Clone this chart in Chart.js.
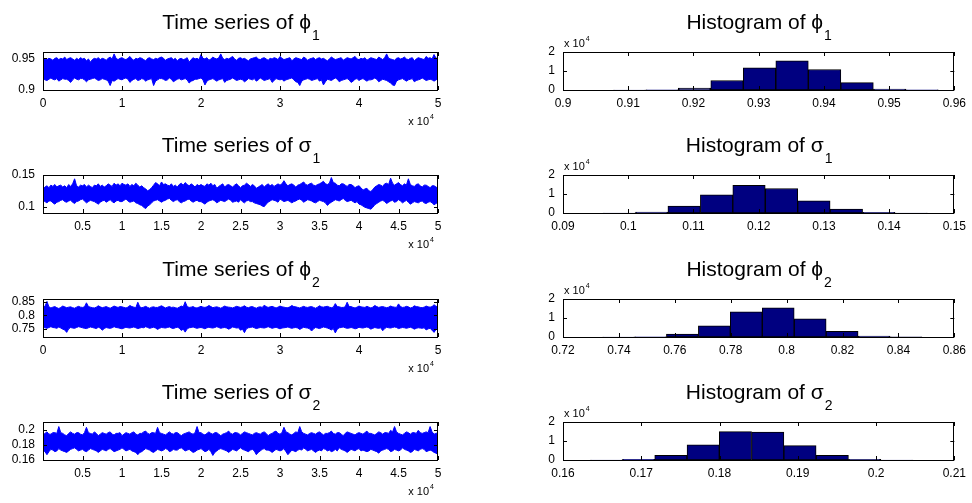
<!DOCTYPE html>
<html>
<head>
<meta charset="utf-8">
<script src="https://cdn.jsdelivr.net/npm/chart.js@4/dist/chart.umd.min.js"></script>
<style>
  html, body { margin: 0; padding: 0; background: #fff; }
  #fig { position: relative; width: 972px; height: 503px; overflow: hidden; background: #fff; }
  .cell { position: absolute; }
</style>
</head>
<body>
<div id="fig"></div>
<script>
// ---- trace envelopes (upper / lower edge of the dense MCMC trace), 201 readings over 50000 iterations
let phi1Upper = [
  0.951,0.949,0.948,0.950,0.949,0.947,0.950,0.951,0.948,0.950,0.949,0.952,0.948,0.950,0.951,0.949,0.947,0.950,0.948,0.951,
  0.949,0.950,0.946,0.949,0.944,0.948,0.950,0.949,0.951,0.948,0.950,0.949,0.947,0.950,0.952,0.949,0.957,0.950,0.948,0.950,
  0.951,0.949,0.948,0.950,0.953,0.949,0.947,0.950,0.949,0.951,0.950,0.948,0.946,0.950,0.951,0.949,0.948,0.950,0.949,0.951,
  0.952,0.950,0.947,0.949,0.950,0.951,0.948,0.950,0.946,0.949,0.950,0.948,0.949,0.951,0.944,0.948,0.951,0.949,0.950,0.948,
  0.956,0.950,0.949,0.951,0.947,0.949,0.952,0.950,0.949,0.951,0.957,0.950,0.948,0.950,0.949,0.951,0.953,0.949,0.947,0.950,
  0.951,0.949,0.950,0.948,0.946,0.949,0.950,0.951,0.952,0.949,0.948,0.950,0.951,0.949,0.947,0.950,0.949,0.951,0.950,0.948,
  0.953,0.950,0.948,0.949,0.950,0.951,0.946,0.949,0.951,0.950,0.949,0.948,0.952,0.950,0.947,0.949,0.950,0.951,0.948,0.950,
  0.951,0.949,0.950,0.948,0.946,0.949,0.952,0.950,0.948,0.949,0.950,0.951,0.947,0.949,0.951,0.950,0.949,0.951,0.953,0.949,
  0.948,0.950,0.949,0.951,0.947,0.949,0.951,0.950,0.949,0.948,0.952,0.950,0.948,0.951,0.957,0.950,0.949,0.948,0.947,0.950,
  0.951,0.949,0.950,0.952,0.949,0.948,0.950,0.951,0.946,0.949,0.951,0.950,0.949,0.948,0.953,0.950,0.951,0.949,0.956,0.950,
  0.951];
let phi1Lower = [
  0.918,0.916,0.915,0.917,0.919,0.917,0.916,0.918,0.914,0.916,0.918,0.917,0.917,0.915,0.912,0.916,0.919,0.917,0.916,0.918,
  0.918,0.916,0.913,0.916,0.917,0.918,0.919,0.917,0.915,0.916,0.918,0.917,0.916,0.914,0.907,0.915,0.914,0.916,0.918,0.917,
  0.916,0.918,0.919,0.917,0.912,0.915,0.917,0.918,0.915,0.916,0.918,0.917,0.914,0.916,0.917,0.918,0.907,0.914,0.916,0.918,
  0.918,0.917,0.915,0.916,0.919,0.917,0.913,0.915,0.917,0.918,0.916,0.917,0.918,0.916,0.911,0.914,0.915,0.917,0.917,0.918,
  0.919,0.916,0.908,0.914,0.916,0.917,0.918,0.916,0.914,0.916,0.917,0.918,0.912,0.915,0.916,0.917,0.919,0.917,0.915,0.916,
  0.917,0.916,0.913,0.915,0.918,0.917,0.916,0.918,0.914,0.916,0.919,0.917,0.915,0.916,0.917,0.918,0.912,0.915,0.918,0.917,
  0.916,0.917,0.914,0.916,0.917,0.918,0.919,0.916,0.913,0.912,0.907,0.914,0.916,0.917,0.918,0.917,0.915,0.916,0.917,0.918,
  0.914,0.916,0.908,0.913,0.917,0.916,0.915,0.917,0.919,0.917,0.913,0.915,0.916,0.917,0.918,0.916,0.912,0.914,0.917,0.918,
  0.915,0.917,0.918,0.916,0.914,0.916,0.916,0.917,0.919,0.917,0.913,0.915,0.917,0.916,0.915,0.913,0.911,0.908,0.907,0.914,
  0.916,0.917,0.918,0.916,0.914,0.916,0.917,0.918,0.913,0.915,0.916,0.917,0.919,0.917,0.915,0.916,0.917,0.916,0.914,0.916,
  0.918];
let sigma1Upper = [
  0.128,0.131,0.133,0.130,0.134,0.132,0.135,0.131,0.133,0.134,0.131,0.133,0.130,0.135,0.132,0.136,0.144,0.133,0.131,0.134,
  0.133,0.135,0.131,0.134,0.132,0.130,0.134,0.133,0.136,0.132,0.134,0.131,0.133,0.136,0.134,0.132,0.137,0.134,0.136,0.133,
  0.137,0.135,0.134,0.136,0.132,0.135,0.133,0.137,0.134,0.131,0.133,0.130,0.128,0.125,0.127,0.130,0.134,0.138,0.136,0.133,
  0.139,0.135,0.136,0.134,0.133,0.136,0.132,0.134,0.131,0.135,0.137,0.134,0.138,0.135,0.133,0.136,0.134,0.131,0.135,0.133,
  0.135,0.133,0.132,0.136,0.134,0.137,0.133,0.135,0.129,0.132,0.134,0.136,0.131,0.134,0.135,0.133,0.131,0.134,0.136,0.133,
  0.130,0.133,0.134,0.137,0.135,0.132,0.135,0.133,0.129,0.131,0.133,0.135,0.131,0.134,0.136,0.133,0.135,0.132,0.134,0.136,
  0.134,0.136,0.141,0.136,0.133,0.135,0.136,0.134,0.131,0.134,0.135,0.137,0.139,0.135,0.134,0.136,0.137,0.134,0.133,0.135,
  0.136,0.138,0.140,0.136,0.135,0.137,0.146,0.138,0.137,0.134,0.133,0.136,0.136,0.134,0.132,0.135,0.135,0.133,0.130,0.132,
  0.133,0.130,0.126,0.128,0.129,0.125,0.124,0.127,0.131,0.133,0.135,0.134,0.132,0.136,0.137,0.135,0.145,0.137,0.134,0.136,
  0.138,0.135,0.133,0.136,0.134,0.144,0.135,0.133,0.132,0.135,0.136,0.133,0.131,0.134,0.134,0.132,0.130,0.133,0.133,0.131,
  0.129];
let sigma1Lower = [
  0.110,0.108,0.106,0.109,0.109,0.106,0.104,0.107,0.108,0.110,0.111,0.108,0.107,0.109,0.110,0.107,0.105,0.108,0.109,0.111,
  0.112,0.109,0.106,0.108,0.110,0.109,0.108,0.106,0.104,0.107,0.109,0.110,0.107,0.109,0.111,0.108,0.106,0.109,0.110,0.108,
  0.108,0.110,0.112,0.109,0.107,0.108,0.109,0.106,0.105,0.103,0.102,0.099,0.097,0.101,0.103,0.106,0.109,0.110,0.111,0.109,
  0.107,0.109,0.110,0.112,0.113,0.110,0.108,0.110,0.111,0.108,0.106,0.108,0.109,0.111,0.112,0.109,0.107,0.109,0.110,0.108,
  0.108,0.106,0.104,0.107,0.109,0.110,0.111,0.109,0.106,0.108,0.110,0.109,0.108,0.110,0.112,0.110,0.107,0.108,0.109,0.107,
  0.111,0.108,0.106,0.109,0.110,0.108,0.108,0.106,0.105,0.104,0.103,0.101,0.100,0.104,0.107,0.109,0.111,0.110,0.109,0.107,
  0.112,0.110,0.108,0.109,0.110,0.108,0.106,0.108,0.109,0.111,0.112,0.110,0.107,0.109,0.111,0.110,0.109,0.107,0.106,0.108,
  0.110,0.109,0.108,0.106,0.102,0.105,0.107,0.109,0.111,0.110,0.109,0.111,0.113,0.110,0.108,0.109,0.110,0.108,0.106,0.108,
  0.104,0.103,0.101,0.099,0.098,0.097,0.096,0.099,0.103,0.105,0.107,0.109,0.110,0.108,0.105,0.107,0.109,0.110,0.107,0.108,
  0.111,0.109,0.106,0.108,0.110,0.107,0.104,0.106,0.108,0.107,0.106,0.108,0.109,0.106,0.105,0.107,0.108,0.106,0.103,0.105,
  0.107];
let phi2Upper = [
  0.830,0.833,0.851,0.831,0.827,0.830,0.832,0.828,0.825,0.829,0.834,0.831,0.828,0.830,0.831,0.828,0.826,0.830,0.833,0.830,
  0.829,0.831,0.846,0.832,0.830,0.828,0.827,0.830,0.835,0.831,0.828,0.830,0.832,0.829,0.826,0.830,0.834,0.831,0.829,0.832,
  0.831,0.829,0.827,0.830,0.836,0.832,0.830,0.828,0.848,0.831,0.828,0.830,0.833,0.829,0.826,0.830,0.831,0.829,0.829,0.832,
  0.835,0.831,0.827,0.830,0.832,0.829,0.830,0.828,0.826,0.830,0.834,0.831,0.850,0.832,0.829,0.830,0.832,0.828,0.827,0.830,
  0.833,0.830,0.829,0.831,0.836,0.832,0.828,0.830,0.831,0.829,0.826,0.830,0.834,0.831,0.830,0.829,0.827,0.830,0.833,0.831,
  0.829,0.831,0.835,0.830,0.828,0.831,0.832,0.829,0.826,0.830,0.831,0.829,0.837,0.832,0.829,0.831,0.833,0.830,0.827,0.830,
  0.834,0.831,0.830,0.828,0.828,0.831,0.836,0.832,0.831,0.829,0.827,0.830,0.833,0.830,0.829,0.831,0.832,0.829,0.826,0.830,
  0.835,0.831,0.830,0.832,0.833,0.830,0.828,0.830,0.843,0.832,0.831,0.829,0.829,0.831,0.848,0.832,0.832,0.829,0.827,0.830,
  0.834,0.831,0.830,0.829,0.833,0.830,0.827,0.830,0.836,0.832,0.829,0.831,0.832,0.830,0.828,0.830,0.834,0.831,0.830,0.829,
  0.842,0.832,0.829,0.830,0.833,0.831,0.827,0.829,0.835,0.832,0.831,0.829,0.828,0.830,0.834,0.831,0.830,0.832,0.839,0.833,
  0.832];
let phi2Lower = [
  0.756,0.754,0.752,0.755,0.758,0.755,0.754,0.752,0.757,0.753,0.749,0.746,0.737,0.750,0.755,0.753,0.752,0.755,0.758,0.756,
  0.754,0.752,0.751,0.754,0.757,0.755,0.753,0.751,0.756,0.753,0.745,0.751,0.755,0.753,0.752,0.754,0.758,0.755,0.754,0.752,
  0.750,0.753,0.756,0.754,0.753,0.755,0.757,0.754,0.751,0.753,0.755,0.754,0.758,0.755,0.752,0.754,0.756,0.753,0.748,0.752,
  0.755,0.754,0.753,0.755,0.757,0.753,0.751,0.754,0.756,0.753,0.744,0.749,0.738,0.750,0.754,0.755,0.757,0.754,0.752,0.754,
  0.755,0.753,0.750,0.754,0.756,0.754,0.753,0.755,0.758,0.755,0.752,0.754,0.755,0.753,0.749,0.752,0.757,0.755,0.753,0.754,
  0.745,0.749,0.736,0.750,0.754,0.755,0.757,0.754,0.751,0.753,0.755,0.754,0.753,0.755,0.758,0.755,0.752,0.754,0.756,0.753,
  0.750,0.753,0.754,0.755,0.757,0.754,0.752,0.754,0.755,0.753,0.748,0.752,0.756,0.754,0.753,0.750,0.742,0.750,0.755,0.753,
  0.751,0.754,0.757,0.755,0.753,0.750,0.746,0.751,0.735,0.749,0.754,0.755,0.757,0.754,0.752,0.753,0.755,0.753,0.750,0.752,
  0.756,0.754,0.753,0.755,0.757,0.754,0.749,0.752,0.755,0.753,0.752,0.754,0.743,0.751,0.756,0.754,0.753,0.755,0.757,0.755,
  0.751,0.753,0.755,0.754,0.752,0.754,0.756,0.753,0.749,0.752,0.754,0.753,0.752,0.754,0.746,0.750,0.752,0.745,0.737,0.748,
  0.754];
let sigma2Upper = [
  0.193,0.195,0.197,0.194,0.194,0.196,0.196,0.195,0.204,0.196,0.195,0.193,0.192,0.195,0.197,0.195,0.194,0.196,0.196,0.194,
  0.193,0.196,0.203,0.196,0.195,0.194,0.197,0.195,0.192,0.194,0.196,0.195,0.194,0.196,0.197,0.194,0.193,0.195,0.195,0.196,
  0.192,0.194,0.196,0.195,0.194,0.196,0.197,0.194,0.193,0.195,0.195,0.197,0.198,0.195,0.194,0.196,0.196,0.195,0.203,0.196,
  0.195,0.194,0.193,0.195,0.197,0.195,0.194,0.196,0.196,0.194,0.192,0.194,0.195,0.196,0.197,0.195,0.194,0.196,0.204,0.196,
  0.196,0.194,0.193,0.195,0.197,0.195,0.194,0.196,0.196,0.194,0.192,0.194,0.195,0.196,0.198,0.195,0.194,0.196,0.196,0.195,
  0.193,0.195,0.197,0.196,0.195,0.194,0.193,0.195,0.196,0.195,0.194,0.196,0.197,0.195,0.192,0.194,0.195,0.197,0.198,0.195,
  0.194,0.196,0.203,0.197,0.196,0.194,0.193,0.195,0.197,0.196,0.204,0.197,0.195,0.194,0.193,0.195,0.196,0.195,0.194,0.196,
  0.197,0.195,0.193,0.195,0.195,0.196,0.198,0.195,0.194,0.196,0.196,0.194,0.192,0.195,0.197,0.196,0.195,0.194,0.193,0.195,
  0.196,0.195,0.194,0.196,0.198,0.195,0.195,0.194,0.193,0.195,0.197,0.196,0.194,0.196,0.196,0.195,0.199,0.197,0.204,0.197,
  0.195,0.194,0.193,0.195,0.197,0.196,0.194,0.196,0.196,0.195,0.199,0.196,0.195,0.196,0.197,0.196,0.204,0.197,0.194,0.195,
  0.196];
let sigma2Lower = [
  0.173,0.171,0.167,0.171,0.174,0.173,0.171,0.172,0.175,0.173,0.172,0.171,0.170,0.172,0.174,0.175,0.176,0.174,0.172,0.173,
  0.174,0.172,0.171,0.173,0.175,0.174,0.173,0.172,0.170,0.172,0.174,0.173,0.172,0.174,0.175,0.173,0.171,0.172,0.173,0.174,
  0.176,0.174,0.172,0.173,0.174,0.172,0.171,0.170,0.167,0.170,0.171,0.173,0.175,0.174,0.173,0.171,0.170,0.172,0.174,0.173,
  0.172,0.173,0.175,0.174,0.171,0.172,0.174,0.173,0.173,0.175,0.176,0.174,0.172,0.173,0.174,0.172,0.170,0.171,0.173,0.174,
  0.175,0.173,0.171,0.172,0.174,0.171,0.166,0.170,0.172,0.174,0.175,0.174,0.173,0.172,0.170,0.172,0.174,0.173,0.172,0.174,
  0.176,0.174,0.173,0.172,0.171,0.173,0.174,0.172,0.167,0.170,0.172,0.174,0.175,0.173,0.173,0.172,0.170,0.172,0.174,0.173,
  0.172,0.173,0.175,0.171,0.167,0.170,0.173,0.172,0.171,0.173,0.174,0.173,0.176,0.174,0.172,0.173,0.174,0.172,0.170,0.172,
  0.173,0.172,0.175,0.174,0.172,0.173,0.171,0.172,0.174,0.172,0.176,0.174,0.173,0.172,0.170,0.172,0.174,0.173,0.172,0.174,
  0.175,0.172,0.173,0.172,0.171,0.172,0.174,0.173,0.172,0.171,0.169,0.172,0.173,0.174,0.175,0.174,0.171,0.172,0.174,0.173,
  0.172,0.173,0.176,0.174,0.173,0.172,0.170,0.171,0.174,0.173,0.172,0.174,0.175,0.174,0.171,0.172,0.173,0.172,0.170,0.169,
  0.167];
let totalIter = 50000;

// ---- histograms: bin centres and counts
let phi1Bins = [0.91019,0.91518,0.92016,0.92515,0.93013,0.93512,0.94011,0.94509,0.95008,0.95506];
let phi1Counts = [10, 150, 1000, 5000, 11700, 15400, 10800, 3900, 500, 60];
let sigma1Bins = [0.09862,0.10360,0.10857,0.11355,0.11852,0.12350,0.12847,0.13345,0.13842,0.14340];
let sigma1Counts = [10, 500, 3700, 9600, 14500, 12900, 6400, 2100, 300, 20];
let phi2Bins = [0.73986,0.75129,0.76271,0.77414,0.78557,0.79700,0.80843,0.81986,0.83129,0.84271];
let phi2Counts = [20, 150, 1600, 5900, 13200, 15300, 9600, 3000, 500, 40];
let sigma2Bins = [0.16553,0.16966,0.17378,0.17791,0.18203,0.18616,0.19028,0.19441,0.19853,0.20266];
let sigma2Counts = [10, 340, 2500, 8000, 14900, 14700, 7600, 2400, 300, 20];

// ---- tick labels
let tsXTicksWhole = [0, 1, 2, 3, 4, 5];            // x 10^4
let tsXTicksHalf = [0.5, 1, 1.5, 2, 2.5, 3, 3.5, 4, 4.5, 5];
let phi1YTicks = [0.9, 0.95];
let sigma1YTicks = [0.1, 0.15];
let phi2YTicks = [0.75, 0.8, 0.85];
let sigma2YTicks = [0.16, 0.18, 0.2];
let histYTicks = [0, 1, 2];                          // x 10^4
let phi1HistTicks = [0.9, 0.91, 0.92, 0.93, 0.94, 0.95, 0.96];
let sigma1HistTicks = [0.09, 0.1, 0.11, 0.12, 0.13, 0.14, 0.15];
let phi2HistTicks = [0.72, 0.74, 0.76, 0.78, 0.8, 0.82, 0.84, 0.86];
let sigma2HistTicks = [0.16, 0.17, 0.18, 0.19, 0.2, 0.21];

const FONT = '"Liberation Sans", Arial, "DejaVu Sans", sans-serif';
const plotTops = [52, 175, 299, 422];
const plotH = 38;
const padTop = 52;
const axisH = 40;
const PHI = '\u03D5', SIGMA = '\u03C3';

function fmt(v) { return String(Number(v.toFixed(5))); }

// MATLAB-ish frame, inner tick marks, title with subscript and the "x 10^4" note
const matlabAxes = {
  id: 'matlabAxes',
  afterDatasetsDraw(chart, args, opts) {
    const { ctx, chartArea: a, scales: { x, y } } = chart;
    ctx.save();
    ctx.strokeStyle = '#000';
    ctx.lineWidth = 1;
    ctx.beginPath();
    x.ticks.forEach(t => {
      const px = Math.round(x.getPixelForValue(t.value)) + 0.5;
      ctx.moveTo(px, a.top); ctx.lineTo(px, a.top + 4);
      ctx.moveTo(px, a.bottom); ctx.lineTo(px, a.bottom - 4);
    });
    y.ticks.forEach(t => {
      const py = Math.round(y.getPixelForValue(t.value)) + 0.5;
      ctx.moveTo(a.left, py); ctx.lineTo(a.left + 4, py);
      ctx.moveTo(a.right, py); ctx.lineTo(a.right - 4, py);
    });
    ctx.stroke();
    ctx.strokeRect(Math.round(a.left) + 0.5, Math.round(a.top) + 0.5,
                   Math.round(a.width) - 1, Math.round(a.height));
    ctx.restore();
  },
  afterDraw(chart, args, opts) {
    const { ctx, chartArea: a } = chart;
    ctx.save();
    ctx.fillStyle = '#000';
    ctx.textBaseline = 'alphabetic';
    ctx.textAlign = 'left';
    // title
    ctx.font = '21px ' + FONT;
    const wMain = ctx.measureText(opts.main).width;
    ctx.font = '14px ' + FONT;
    const wSub = ctx.measureText(opts.sub).width;
    const x0 = (a.left + a.right) / 2 - (wMain + wSub) / 2;
    ctx.font = '21px ' + FONT;
    ctx.fillText(opts.main, x0, a.top - 23);
    ctx.font = '14px ' + FONT;
    ctx.fillText(opts.sub, x0 + wMain + 1, a.top - 12);
    // exponent note
    ctx.font = '11px ' + FONT;
    const wx = ctx.measureText('x 10').width;
    ctx.font = '7px ' + FONT;
    const w4 = ctx.measureText('4').width;
    let ex, ey;
    if (opts.kind === 'ts') { ex = a.right - 5 - wx - w4; ey = a.bottom + 35; }
    else { ex = a.left + 1; ey = a.top - 5; }
    ctx.font = '11px ' + FONT;
    ctx.fillText('x 10', ex, ey);
    ctx.font = '7px ' + FONT;
    ctx.fillText('4', ex + wx + 1, ey - 6);
    ctx.restore();
  }
};

function axisScales(xMin, xMax, xTicks, xScale, yMin, yMax, yTicks, yScale) {
  const tickFont = { family: FONT, size: 12 };
  return {
    x: {
      type: 'linear', min: xMin, max: xMax, offset: false,
      grid: { display: false, drawTicks: false }, border: { display: false },
      afterBuildTicks: s => { s.ticks = xTicks.map(v => ({ value: v * xScale })); },
      afterFit: s => { s.height = axisH; },
      ticks: { color: '#000', font: tickFont, padding: 6, autoSkip: false, maxRotation: 0,
               callback: v => fmt(v / xScale) }
    },
    y: {
      type: 'linear', min: yMin, max: yMax,
      grid: { display: false, drawTicks: false }, border: { display: false },
      afterBuildTicks: s => { s.ticks = yTicks.map(v => ({ value: v * yScale })); },
      afterFit: s => { s.width = 43; },
      ticks: { color: '#000', font: tickFont, padding: 8, autoSkip: false,
               callback: v => fmt(v / yScale) }
    }
  };
}

function makeCell(left, top, width) {
  const div = document.createElement('div');
  div.className = 'cell';
  div.style.left = left + 'px';
  div.style.top = top + 'px';
  div.style.width = width + 'px';
  div.style.height = (padTop + plotH + axisH) + 'px';
  const cv = document.createElement('canvas');
  div.appendChild(cv);
  document.getElementById('fig').appendChild(div);
  return cv;
}

function traceChart(row, sym, sub, upper, lower, yMin, yMax, yTicks, xTicks) {
  const cv = makeCell(0, plotTops[row] - padTop, 460);
  const pts = arr => arr.map((v, i) => ({ x: i * totalIter / (arr.length - 1), y: v }));
  new Chart(cv, {
    type: 'line',
    data: {
      datasets: [
        { data: pts(upper), borderColor: '#0000ff', backgroundColor: '#0000ff', borderWidth: 1,
          pointRadius: 0, tension: 0, fill: '+1' },
        { data: pts(lower), borderColor: '#0000ff', backgroundColor: '#0000ff', borderWidth: 1,
          pointRadius: 0, tension: 0, fill: false }
      ]
    },
    options: {
      responsive: true, maintainAspectRatio: false, animation: false,
      layout: { padding: { top: padTop, right: 22, left: 0, bottom: 0 } },
      scales: axisScales(0, totalIter, xTicks, 10000, yMin, yMax, yTicks, 1),
      plugins: {
        legend: { display: false }, tooltip: { enabled: false },
        matlabAxes: { kind: 'ts', main: 'Time series of ' + sym, sub: sub }
      }
    },
    plugins: [matlabAxes]
  });
}

function histChart(row, sym, sub, bins, counts, xMin, xMax, xTicks) {
  const cv = makeCell(520, plotTops[row] - padTop, 452);
  new Chart(cv, {
    type: 'bar',
    data: {
      datasets: [{
        data: bins.map((b, i) => ({ x: b, y: counts[i] })),
        backgroundColor: '#000080', borderColor: '#000', borderWidth: 1, borderSkipped: false,
        barPercentage: 1, categoryPercentage: 1
      }]
    },
    options: {
      responsive: true, maintainAspectRatio: false, animation: false,
      layout: { padding: { top: padTop, right: 14, left: 0, bottom: 0 } },
      scales: axisScales(xMin, xMax, xTicks, 1, 0, 20000, histYTicks, 10000),
      plugins: {
        legend: { display: false }, tooltip: { enabled: false },
        matlabAxes: { kind: 'hist', main: 'Histogram of ' + sym, sub: sub }
      }
    },
    plugins: [matlabAxes]
  });
}

traceChart(0, PHI, '1', phi1Upper, phi1Lower, 0.9, 0.96, phi1YTicks, tsXTicksWhole);
traceChart(1, SIGMA, '1', sigma1Upper, sigma1Lower, 0.09, 0.15, sigma1YTicks, tsXTicksHalf);
traceChart(2, PHI, '2', phi2Upper, phi2Lower, 0.72, 0.86, phi2YTicks, tsXTicksWhole);
traceChart(3, SIGMA, '2', sigma2Upper, sigma2Lower, 0.16, 0.21, sigma2YTicks, tsXTicksHalf);

histChart(0, PHI, '1', phi1Bins, phi1Counts, 0.9, 0.96, phi1HistTicks);
histChart(1, SIGMA, '1', sigma1Bins, sigma1Counts, 0.09, 0.15, sigma1HistTicks);
histChart(2, PHI, '2', phi2Bins, phi2Counts, 0.72, 0.86, phi2HistTicks);
histChart(3, SIGMA, '2', sigma2Bins, sigma2Counts, 0.16, 0.21, sigma2HistTicks);
</script>
</body>
</html>
